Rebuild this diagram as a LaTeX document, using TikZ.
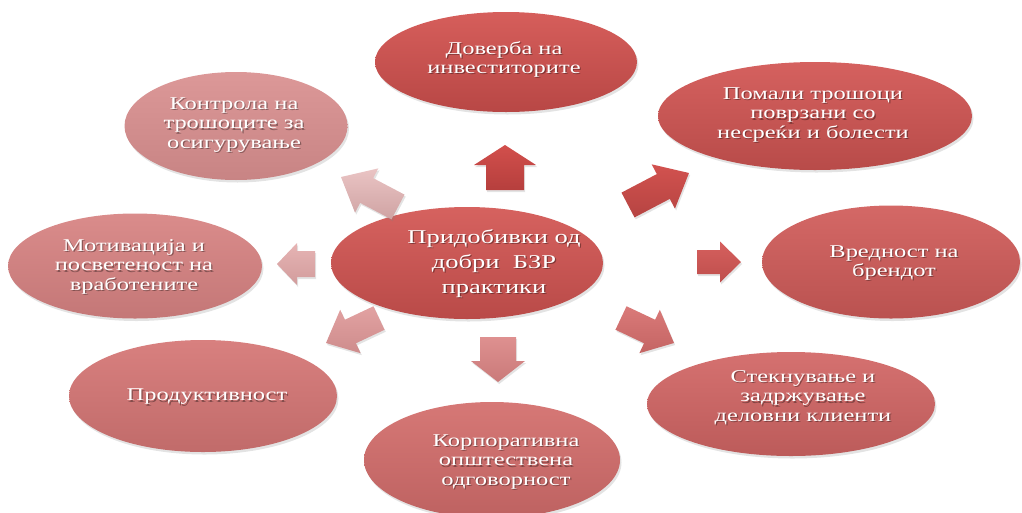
\documentclass[tikz,border=0pt]{standalone}
\usepackage{fontspec}
\setmainfont{Liberation Serif}
\usetikzlibrary{shapes.geometric,shadows,calc}

\definecolor{aT}{HTML}{D65E5B}\definecolor{aB}{HTML}{B84745}
\definecolor{bT}{HTML}{D5615F}\definecolor{bB}{HTML}{B84B49}
\definecolor{cT}{HTML}{D46866}\definecolor{cB}{HTML}{BA5250}
\definecolor{dT}{HTML}{D57170}\definecolor{dB}{HTML}{BC5B5A}
\definecolor{eT}{HTML}{D67876}\definecolor{eB}{HTML}{BE6261}
\definecolor{fT}{HTML}{D8807F}\definecolor{fB}{HTML}{C16B6A}
\definecolor{gT}{HTML}{DA8C8B}\definecolor{gB}{HTML}{C47777}
\definecolor{hT}{HTML}{DC9898}\definecolor{hB}{HTML}{C88484}
\definecolor{mT}{HTML}{D6625F}\definecolor{mB}{HTML}{B94A48}
\definecolor{r1T}{HTML}{D24F4C}\definecolor{r1B}{HTML}{B63F3D}
\definecolor{r2T}{HTML}{D2524F}\definecolor{r2B}{HTML}{B64442}
\definecolor{r3T}{HTML}{D6605E}\definecolor{r3B}{HTML}{BE4E4C}
\definecolor{r4T}{HTML}{DA7A79}\definecolor{r4B}{HTML}{C46463}
\definecolor{r5T}{HTML}{DE9090}\definecolor{r5B}{HTML}{CA7A79}
\definecolor{r6T}{HTML}{E2A2A2}\definecolor{r6B}{HTML}{CE8C8C}
\definecolor{r7T}{HTML}{E6B4B4}\definecolor{r7B}{HTML}{D29C9C}
\definecolor{r8T}{HTML}{EAC4C4}\definecolor{r8B}{HTML}{CFA3A3}

\tikzset{
  bubble/.style={ellipse, draw=none, inner sep=0pt,
    drop shadow={opacity=0.22, shadow xshift=1.5pt, shadow yshift=-2.5pt}},
  blockarr/.style={draw=none,
    drop shadow={opacity=0.22, shadow xshift=1.2pt, shadow yshift=-2pt}},
  txt/.style={text=white, align=center, inner sep=0pt},
  txtsh/.style={txt, text=black, text opacity=0.35},
  shA/.style={top color=aT, bottom color=aB},
  shB/.style={top color=bT, bottom color=bB},
  shC/.style={top color=cT, bottom color=cB},
  shD/.style={top color=dT, bottom color=dB},
  shE/.style={top color=eT, bottom color=eB},
  shF/.style={top color=fT, bottom color=fB},
  shG/.style={top color=gT, bottom color=gB},
  shH/.style={top color=hT, bottom color=hB},
  shM/.style={top color=mT, bottom color=mB},
  arA/.style={top color=r1T, bottom color=r1B},
  arB/.style={top color=r2T, bottom color=r2B},
  arC/.style={top color=r3T, bottom color=r3B},
  arD/.style={top color=r4T, bottom color=r4B},
  arE/.style={top color=r5T, bottom color=r5B},
  arF/.style={top color=r6T, bottom color=r6B},
  arG/.style={top color=r7T, bottom color=r7B},
  arH/.style={top color=r8T, bottom color=r8B},
}

% widened text block: #1 font size, #2 baselineskip, #3 lines
\newcommand{\widetext}[3]{\scalebox{1.36}[1]{\fontsize{#1}{#2}\selectfont
  \begin{tabular}{@{}c@{}}#3\end{tabular}}}
% #1 name, #2 x, #3 y, #4 width, #5 height, #6 shading style
\newcommand{\ellipbox}[6]{%
  \node[bubble, #6, minimum width=#4pt, minimum height=#5pt] (#1) at (#2,#3) {};}
% #1 name, #2 x, #3 y, #4 size, #5 skip, #6 text
\newcommand{\lbl}[6]{%
  \node[txtsh] at (#2+1.2,#3+1.2) {\widetext{#4}{#5}{#6}};
  \node[txt] (#1) at (#2,#3) {\widetext{#4}{#5}{#6}};}
% #1 name, #2,#3 tail, #4,#5 tip, #6 shaft half, #7 head half, #8 head length, #9 style
\newcommand{\barrow}[9]{%
  \coordinate (#1-t) at (#2,#3);
  \coordinate (#1-h) at (#4,#5);
  \coordinate (#1-b) at ($(#1-h)!#8pt!(#1-t)$);
  \path[blockarr, #9]
    ($(#1-t)!#6pt!90:(#1-h)$) -- ($(#1-b)!#6pt!90:(#1-h)$) --
    ($(#1-b)!#7pt!90:(#1-h)$) -- (#1-h) --
    ($(#1-b)!#7pt!-90:(#1-h)$) -- ($(#1-b)!#6pt!-90:(#1-h)$) --
    ($(#1-t)!#6pt!-90:(#1-h)$) -- cycle;}

\begin{document}
\begin{tikzpicture}[x=1pt, y=-1pt]
\useasboundingbox (0,0) rectangle (1022,512);

% satellites
\ellipbox{e1}{506}{62}{262}{100}{shA}
\ellipbox{e2}{815}{116}{314}{108}{shB}
\ellipbox{e3}{891}{262}{258}{113}{shC}
\ellipbox{e4}{791}{404}{288}{104}{shD}
\ellipbox{e5}{492}{460}{256}{116}{shE}
\ellipbox{e6}{203}{396}{268}{112}{shF}
\ellipbox{e7}{135}{266}{254}{105}{shG}
\ellipbox{e8}{236}{126}{223}{108}{shH}
% centre
\ellipbox{c}{467}{263}{272}{112}{shM}

% block arrows
\barrow{a1}{505}{190}{505}{145}{19}{31}{20}{arA}
\barrow{a2}{628}{205}{689}{173}{14}{25}{29}{arB}
\barrow{a3}{697}{262}{741}{262}{12}{20.5}{21}{arC}
\barrow{a4}{621}{318}{674}{343}{13}{24}{27}{arD}
\barrow{a5}{498}{337}{498}{382}{18}{27}{21}{arE}
\barrow{a6}{379}{318}{326}{343}{13}{24}{27}{arF}
\barrow{a7}{315}{264}{277}{264}{13}{21}{20}{arG}
\barrow{a8}{398}{207}{341}{177}{14}{25}{29}{arH}

% labels
\lbl{t1}{504}{60}{18}{19.5}{Доверба на\\инвеститорите}
\lbl{t2}{813}{115}{18}{19.5}{Помали трошоци\\поврзани со\\несреќи и болести}
\lbl{t3}{894}{263}{18}{19.5}{Вредност на\\брендот}
\lbl{t4}{803}{398}{18}{19.5}{Стекнување и\\задржување\\деловни клиенти}
\lbl{t5}{506}{462}{18}{19.5}{Корпоративна\\општествена\\одговорност}
\lbl{t6}{207}{397}{18}{19.5}{Продуктивност}
\lbl{t7}{134}{267}{18}{19.5}{Мотивација и\\посветеност на\\вработените}
\lbl{t8}{234}{125}{18}{19.5}{Контрола на\\трошоците за\\осигурување}
\lbl{tc}{494}{263}{19.5}{25}{Придобивки од\\добри~~БЗР\\практики}
\end{tikzpicture}
\end{document}
